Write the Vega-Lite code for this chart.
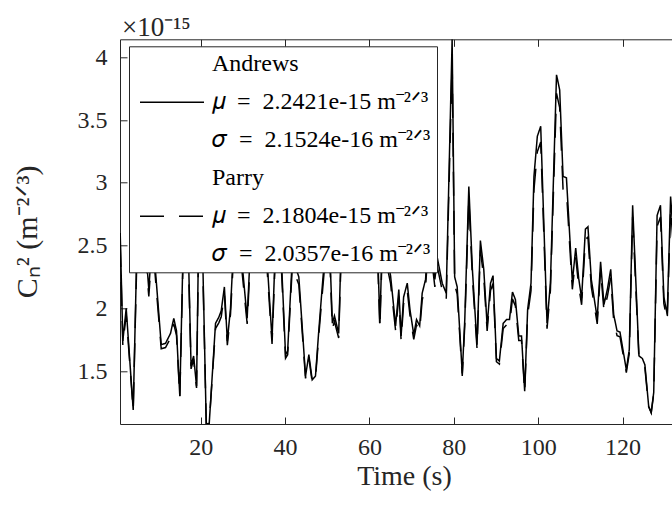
{
  "$schema": "https://vega.github.io/schema/vega-lite/v6.json",
  "width": 552,
  "height": 384.7,
  "autosize": "none",
  "padding": {"left": 120, "top": 39.3, "right": 0, "bottom": 86},
  "background": "white",
  "title": {"text": "×10⁻¹⁵", "anchor": "start", "frame": "group", "font": "Liberation Serif", "fontSize": 27, "fontWeight": "normal", "color": "#262626", "offset": -3, "dx": 2},
  "config": {
    "view": {"stroke": null},
    "font": "Liberation Serif"
  },
  "data": {"values": [
    {"t": 0.9, "Andrews": 2.6, "Parry": 2.52},
    {"t": 1.52, "Andrews": 1.74, "Parry": 1.706},
    {"t": 2.32, "Andrews": 2.0, "Parry": 1.952},
    {"t": 3.98, "Andrews": 1.19, "Parry": 1.186},
    {"t": 5.0, "Andrews": 2.7, "Parry": 2.614},
    {"t": 6.66, "Andrews": 2.6, "Parry": 2.52},
    {"t": 7.68, "Andrews": 2.15, "Parry": 2.094},
    {"t": 8.56, "Andrews": 2.6, "Parry": 2.52},
    {"t": 10.62, "Andrews": 1.71, "Parry": 1.678},
    {"t": 11.64, "Andrews": 1.72, "Parry": 1.687},
    {"t": 12.83, "Andrews": 1.8, "Parry": 1.763},
    {"t": 13.6, "Andrews": 1.92, "Parry": 1.876},
    {"t": 14.25, "Andrews": 1.82, "Parry": 1.782},
    {"t": 15.03, "Andrews": 1.3, "Parry": 1.29},
    {"t": 15.9, "Andrews": 2.6, "Parry": 2.52},
    {"t": 17.1, "Andrews": 2.4, "Parry": 2.33},
    {"t": 17.7, "Andrews": 1.54, "Parry": 1.517},
    {"t": 18.3, "Andrews": 1.62, "Parry": 1.593},
    {"t": 19.0, "Andrews": 1.38, "Parry": 1.365},
    {"t": 19.5, "Andrews": 2.6, "Parry": 2.52},
    {"t": 20.4, "Andrews": 2.5, "Parry": 2.425},
    {"t": 21.3, "Andrews": 1.078, "Parry": 1.08},
    {"t": 22.0, "Andrews": 1.08, "Parry": 1.082},
    {"t": 23.5, "Andrews": 1.88, "Parry": 1.838},
    {"t": 24.3, "Andrews": 1.93, "Parry": 1.886},
    {"t": 24.85, "Andrews": 1.98, "Parry": 1.933},
    {"t": 25.6, "Andrews": 2.17, "Parry": 2.113},
    {"t": 26.3, "Andrews": 1.74, "Parry": 1.706},
    {"t": 27.05, "Andrews": 2.0, "Parry": 1.952},
    {"t": 27.8, "Andrews": 2.5, "Parry": 2.425},
    {"t": 29.4, "Andrews": 2.5, "Parry": 2.425},
    {"t": 31.0, "Andrews": 1.92, "Parry": 1.876},
    {"t": 31.8, "Andrews": 2.5, "Parry": 2.425},
    {"t": 33.7, "Andrews": 2.6, "Parry": 2.52},
    {"t": 35.5, "Andrews": 2.5, "Parry": 2.425},
    {"t": 36.9, "Andrews": 1.75, "Parry": 1.716},
    {"t": 37.7, "Andrews": 2.5, "Parry": 2.425},
    {"t": 39.1, "Andrews": 2.4, "Parry": 2.33},
    {"t": 40.1, "Andrews": 1.63, "Parry": 1.602},
    {"t": 40.6, "Andrews": 1.66, "Parry": 1.63},
    {"t": 41.7, "Andrews": 2.4, "Parry": 2.33},
    {"t": 43.25, "Andrews": 2.25, "Parry": 2.189},
    {"t": 44.84, "Andrews": 1.46, "Parry": 1.441},
    {"t": 45.63, "Andrews": 1.63, "Parry": 1.602},
    {"t": 46.42, "Andrews": 1.43, "Parry": 1.413},
    {"t": 47.2, "Andrews": 1.46, "Parry": 1.441},
    {"t": 48.0, "Andrews": 1.83, "Parry": 1.791},
    {"t": 48.8, "Andrews": 2.17, "Parry": 2.113},
    {"t": 49.6, "Andrews": 2.5, "Parry": 2.425},
    {"t": 50.6, "Andrews": 2.45, "Parry": 2.378},
    {"t": 51.2, "Andrews": 1.88, "Parry": 1.838},
    {"t": 51.7, "Andrews": 1.94, "Parry": 1.895},
    {"t": 52.7, "Andrews": 1.8, "Parry": 1.763},
    {"t": 53.3, "Andrews": 2.5, "Parry": 2.425},
    {"t": 55.0, "Andrews": 2.7, "Parry": 2.614},
    {"t": 57.0, "Andrews": 2.5, "Parry": 2.425},
    {"t": 59.0, "Andrews": 2.8, "Parry": 2.709},
    {"t": 61.0, "Andrews": 2.5, "Parry": 2.425},
    {"t": 62.0, "Andrews": 2.4, "Parry": 2.33},
    {"t": 62.46, "Andrews": 1.88, "Parry": 1.838},
    {"t": 63.0, "Andrews": 2.5, "Parry": 2.425},
    {"t": 64.2, "Andrews": 2.4, "Parry": 2.33},
    {"t": 65.0, "Andrews": 2.26, "Parry": 2.198},
    {"t": 66.2, "Andrews": 1.86, "Parry": 1.82},
    {"t": 66.96, "Andrews": 2.15, "Parry": 2.094},
    {"t": 67.5, "Andrews": 1.78, "Parry": 1.744},
    {"t": 68.1, "Andrews": 2.09, "Parry": 2.037},
    {"t": 68.96, "Andrews": 2.2, "Parry": 2.141},
    {"t": 69.6, "Andrews": 1.99, "Parry": 1.943},
    {"t": 70.5, "Andrews": 1.79, "Parry": 1.753},
    {"t": 71.16, "Andrews": 1.91, "Parry": 1.867},
    {"t": 71.9, "Andrews": 1.86, "Parry": 1.82},
    {"t": 72.5, "Andrews": 2.12, "Parry": 2.066},
    {"t": 73.3, "Andrews": 2.23, "Parry": 2.17},
    {"t": 73.8, "Andrews": 2.5, "Parry": 2.425},
    {"t": 74.8, "Andrews": 2.45, "Parry": 2.378},
    {"t": 75.5, "Andrews": 2.23, "Parry": 2.17},
    {"t": 76.1, "Andrews": 2.4, "Parry": 2.33},
    {"t": 77.25, "Andrews": 2.2, "Parry": 2.141},
    {"t": 77.6, "Andrews": 2.17, "Parry": 2.113},
    {"t": 78.2, "Andrews": 2.12, "Parry": 2.066},
    {"t": 79.6, "Andrews": 4.143, "Parry": 3.979},
    {"t": 80.2, "Andrews": 2.25, "Parry": 2.189},
    {"t": 80.8, "Andrews": 2.17, "Parry": 2.113},
    {"t": 82.0, "Andrews": 1.48, "Parry": 1.46},
    {"t": 82.6, "Andrews": 1.91, "Parry": 1.867},
    {"t": 83.56, "Andrews": 2.97, "Parry": 2.87},
    {"t": 84.4, "Andrews": 2.31, "Parry": 2.245},
    {"t": 85.5, "Andrews": 1.71, "Parry": 1.678},
    {"t": 86.3, "Andrews": 2.54, "Parry": 2.463},
    {"t": 87.1, "Andrews": 2.31, "Parry": 2.245},
    {"t": 87.9, "Andrews": 1.86, "Parry": 1.82},
    {"t": 88.7, "Andrews": 2.2, "Parry": 2.141},
    {"t": 89.3, "Andrews": 2.26, "Parry": 2.198},
    {"t": 90.1, "Andrews": 1.6, "Parry": 1.574},
    {"t": 90.8, "Andrews": 1.58, "Parry": 1.555},
    {"t": 91.7, "Andrews": 1.88, "Parry": 1.838},
    {"t": 92.5, "Andrews": 1.91, "Parry": 1.867},
    {"t": 93.2, "Andrews": 1.91, "Parry": 1.867},
    {"t": 93.9, "Andrews": 2.13, "Parry": 2.075},
    {"t": 94.6, "Andrews": 2.07, "Parry": 2.018},
    {"t": 95.4, "Andrews": 1.78, "Parry": 1.744},
    {"t": 96.05, "Andrews": 1.78, "Parry": 1.744},
    {"t": 96.8, "Andrews": 1.34, "Parry": 1.328},
    {"t": 97.5, "Andrews": 1.99, "Parry": 1.943},
    {"t": 98.3, "Andrews": 2.2, "Parry": 2.141},
    {"t": 99.0, "Andrews": 3.05, "Parry": 2.945},
    {"t": 99.8, "Andrews": 3.37, "Parry": 3.248},
    {"t": 100.6, "Andrews": 3.45, "Parry": 3.324},
    {"t": 102.1, "Andrews": 1.88, "Parry": 1.838},
    {"t": 102.9, "Andrews": 2.2, "Parry": 2.141},
    {"t": 104.35, "Andrews": 3.86, "Parry": 3.712},
    {"t": 105.1, "Andrews": 3.74, "Parry": 3.598},
    {"t": 105.9, "Andrews": 3.05, "Parry": 2.945},
    {"t": 106.7, "Andrews": 3.04, "Parry": 2.936},
    {"t": 108.1, "Andrews": 2.21, "Parry": 2.151},
    {"t": 108.9, "Andrews": 2.48, "Parry": 2.406},
    {"t": 109.6, "Andrews": 2.24, "Parry": 2.179},
    {"t": 110.3, "Andrews": 2.08, "Parry": 2.028},
    {"t": 111.2, "Andrews": 2.63, "Parry": 2.548},
    {"t": 111.8, "Andrews": 2.65, "Parry": 2.567},
    {"t": 112.6, "Andrews": 2.23, "Parry": 2.17},
    {"t": 114.0, "Andrews": 1.92, "Parry": 1.876},
    {"t": 114.8, "Andrews": 2.37, "Parry": 2.302},
    {"t": 115.6, "Andrews": 2.03, "Parry": 1.98},
    {"t": 116.4, "Andrews": 2.15, "Parry": 2.094},
    {"t": 117.2, "Andrews": 2.31, "Parry": 2.245},
    {"t": 117.9, "Andrews": 1.95, "Parry": 1.905},
    {"t": 118.7, "Andrews": 1.82, "Parry": 1.782},
    {"t": 119.4, "Andrews": 1.81, "Parry": 1.772},
    {"t": 120.9, "Andrews": 1.51, "Parry": 1.488},
    {"t": 121.6, "Andrews": 1.67, "Parry": 1.64},
    {"t": 122.4, "Andrews": 2.82, "Parry": 2.728},
    {"t": 123.9, "Andrews": 1.62, "Parry": 1.593},
    {"t": 124.7, "Andrews": 1.6, "Parry": 1.574},
    {"t": 125.3, "Andrews": 1.55, "Parry": 1.526},
    {"t": 126.2, "Andrews": 1.22, "Parry": 1.214},
    {"t": 126.8, "Andrews": 1.17, "Parry": 1.167},
    {"t": 127.4, "Andrews": 1.33, "Parry": 1.318},
    {"t": 128.2, "Andrews": 2.74, "Parry": 2.652},
    {"t": 129.0, "Andrews": 2.82, "Parry": 2.728},
    {"t": 129.8, "Andrews": 2.09, "Parry": 2.037},
    {"t": 130.6, "Andrews": 1.95, "Parry": 1.905},
    {"t": 131.4, "Andrews": 2.89, "Parry": 2.794},
    {"t": 132.2, "Andrews": 2.5, "Parry": 2.425}
  ]},
  "transform": [{"fold": ["Andrews", "Parry"], "as": ["series", "value"]}],
  "layer": [
    {
      "transform": [{"filter": "datum.series == 'Andrews'"}],
      "mark": {"type": "line", "color": "black", "strokeWidth": 1.5, "clip": true},
      "encoding": {
        "x": {"field": "t", "type": "quantitative",
          "scale": {"domain": [0.85, 131.73], "nice": false, "zero": false},
          "axis": {"orient": "bottom", "values": [20, 40, 60, 80, 100, 120], "grid": false,
            "tickSize": -7, "tickColor": "#262626", "domainColor": "#262626", "domainWidth": 1, "tickWidth": 1,
            "labelFont": "Liberation Serif", "labelFontSize": 24, "labelColor": "#262626", "labelPadding": 18,
            "title": "Time (s)", "titleFont": "Liberation Serif", "titleFontSize": 28, "titleFontWeight": "normal",
            "titleColor": "#262626", "titlePadding": 3, "titleX": 284}},
        "y": {"field": "value", "type": "quantitative",
          "scale": {"domain": [1.078, 4.143], "nice": false, "zero": false},
          "axis": {"values": [1.5, 2, 2.5, 3, 3.5, 4], "format": ".1~f", "grid": false,
            "tickSize": -7, "tickColor": "#262626", "domainColor": "#262626", "domainWidth": 1, "tickWidth": 1,
            "labelFont": "Liberation Serif", "labelFontSize": 24, "labelColor": "#262626", "labelPadding": 20,
            "title": "Cₙ² (m⁻²ᐟ³)", "titleFont": "Liberation Serif", "titleFontSize": 30, "titleFontWeight": "normal",
            "titleColor": "#262626", "titleX": -93, "titleY": 192, "titleAngle": -90, "titleAlign": "center", "titleBaseline": "middle"}},
        "strokeDash": {"field": "series", "type": "nominal",
          "scale": {"domain": ["Andrews_h", "Andrews", "Andrews_s", "Parry_h", "Parry", "Parry_s"],
                    "range": [[0, 300], [1, 0], [0, 300], [0, 300], [24, 15], [0, 300]]},
          "legend": {"orient": "none", "legendX": 9, "legendY": 7, "title": null,
            "fillColor": "white", "strokeColor": "#262626", "padding": 6,
            "symbolType": "stroke", "symbolSize": 4096, "symbolStrokeWidth": 1.5, "symbolStrokeColor": "black", "symbolOffset": 4,
            "clipHeight": 24, "rowPadding": 14,
            "labelFont": "Liberation Serif", "labelFontSize": 24, "labelColor": "black", "labelLimit": 0, "labelOffset": 7,
            "labelExpr": "datum.label == 'Andrews_h' ? '\u2005Andrews' : datum.label == 'Andrews' ? '𝜇\u2002=\u20022.2421e-15 m⁻²ᐟ³' : datum.label == 'Andrews_s' ? '𝜎\u2002=\u20022.1524e-16 m⁻²ᐟ³' : datum.label == 'Parry_h' ? '\u2005Parry' : datum.label == 'Parry' ? '𝜇\u2002=\u20022.1804e-15 m⁻²ᐟ³' : '𝜎\u2002=\u20022.0357e-16 m⁻²ᐟ³'"}}
      }
    },
    {
      "transform": [{"filter": "datum.series == 'Parry'"}],
      "mark": {"type": "line", "color": "black", "strokeWidth": 1.5, "clip": true},
      "encoding": {
        "x": {"field": "t", "type": "quantitative",
          "scale": {"domain": [0.85, 131.73], "nice": false, "zero": false},
          "axis": {"orient": "top", "values": [20, 40, 60, 80, 100, 120], "grid": false, "labels": false, "title": null,
            "tickSize": -7, "tickColor": "#262626", "domainColor": "#262626", "domainWidth": 1, "tickWidth": 1}},
        "y": {"field": "value", "type": "quantitative"},
        "strokeDash": {"field": "series", "type": "nominal"}
      }
    }
  ],
  "resolve": {"axis": {"x": "independent"}}
}
